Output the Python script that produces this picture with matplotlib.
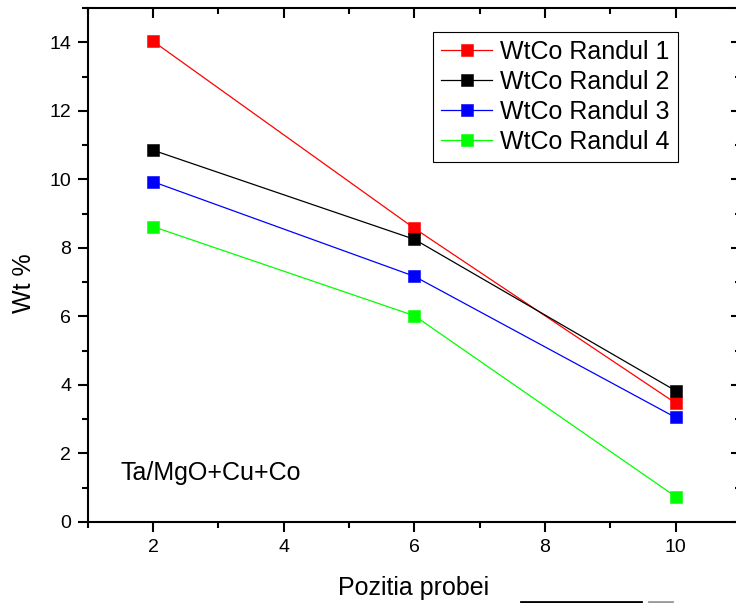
import matplotlib
matplotlib.use('Agg')
import matplotlib.pyplot as plt
from matplotlib.lines import Line2D
from matplotlib.ticker import MultipleLocator

plt.rcParams['font.family'] = ['Liberation Sans', 'DejaVu Sans']

# data
positions = [2, 6, 10]
randul_1 = [14.03, 8.57, 3.47]
randul_2 = [10.85, 8.25, 3.83]
randul_3 = [9.93, 7.17, 3.05]
randul_4 = [8.62, 6.02, 0.74]
series_names = ['WtCo Randul 1', 'WtCo Randul 2', 'WtCo Randul 3', 'WtCo Randul 4']
series_colors = ['#ff0000', '#000000', '#0000ff', '#00ff00']
sample_label = 'Ta/MgO+Cu+Co'

W, H = 736, 603
fig = plt.figure(figsize=(W / 100, H / 100), dpi=100)
# right spine sits just outside the image, like the reference
ax = fig.add_axes([87.7 / W, (H - 522) / H, (741 - 87.7) / W, (522 - 8) / H])

for vals, name, col in zip([randul_1, randul_2, randul_3, randul_4], series_names, series_colors):
    ax.plot(positions, vals, color=col, lw=0.9, marker='s', markersize=8.6,
            markerfacecolor=col, markeredgecolor=col, markeredgewidth=0.4, label=name)

ax.set_xlim(1, 11)
ax.set_ylim(0, 15)
ax.xaxis.set_major_locator(MultipleLocator(2))
ax.xaxis.set_minor_locator(MultipleLocator(1))
ax.yaxis.set_major_locator(MultipleLocator(2))
ax.yaxis.set_minor_locator(MultipleLocator(1))
ax.set_xticks([2, 4, 6, 8, 10])

for sp in ax.spines.values():
    sp.set_linewidth(1.5)

ax.tick_params(axis='both', which='major', direction='out', length=7, width=1.5,
               labelsize=14, pad=5)
ax.tick_params(axis='both', which='minor', direction='out', length=4, width=1.5)
ax.tick_params(axis='x', which='both', top=True)
ax.tick_params(axis='y', which='both', right=True)

# inward ticks on top and right (mirror axes, Origin style)
for t in ax.xaxis.get_major_ticks():
    t.tick2line.set_marker(3)
    t.tick2line.set_markersize(7)
for t in ax.xaxis.get_minor_ticks():
    t.tick2line.set_marker(3)
    t.tick2line.set_markersize(4)
for t in ax.yaxis.get_major_ticks():
    t.tick2line.set_marker(0)
    t.tick2line.set_markersize(7)
for t in ax.yaxis.get_minor_ticks():
    t.tick2line.set_marker(0)
    t.tick2line.set_markersize(4)

ax.text(1.505, 1.22, sample_label, fontsize=18, va='baseline', ha='left')

leg = ax.legend(loc='upper left', bbox_to_anchor=(433 / W, 1 - 31.7 / H),
                bbox_transform=fig.transFigure, borderaxespad=0, fontsize=18,
                handlelength=2.05, handletextpad=0.33, labelspacing=0.24,
                borderpad=0.32, numpoints=1, fancybox=False, framealpha=1,
                edgecolor='black')
leg.get_frame().set_linewidth(0.8)
for h in leg.legend_handles:
    h.set_markersize(8.6)

fig.text(414 / W, 1 - 588 / H, 'Pozitia probei', fontsize=18, ha='center', va='center')
fig.text(24 / W, 1 - 283 / H, 'Wt %', fontsize=18, ha='center', va='center', rotation=90)

# stray strokes at the bottom edge of the reference
fig.add_artist(Line2D([520.7 / W, 640.7 / W], [1.2 / H, 1.2 / H], color='black', lw=2))
fig.add_artist(Line2D([649 / W, 672 / W], [1.2 / H, 1.2 / H], color='#999999', lw=2))

fig.savefig('out.png', dpi=100)
